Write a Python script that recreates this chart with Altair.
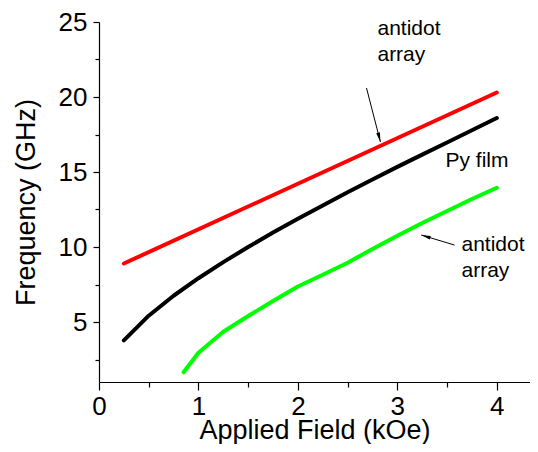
import altair as alt
import pandas as pd

# ---- data ----
field = [0.25, 0.5, 0.75, 1.0, 1.25, 1.5, 1.75, 2.0, 2.25, 2.5, 2.75, 3.0, 3.25, 3.5, 3.75, 4.0]
py_film = [3.77, 5.42, 6.75, 7.92, 8.99, 10.0, 10.96, 11.88, 12.77, 13.65, 14.5, 15.34, 16.16, 16.97, 17.78, 18.6]

red_field = [0.25, 4.0]
red_freq = [8.9, 20.3]

green_field = [0.85, 1.0, 1.25, 1.5, 1.75, 2.0, 2.25, 2.5, 2.75, 3.0, 3.25, 3.5, 3.75, 4.0]
green_freq = [1.65, 2.95, 4.35, 5.4, 6.4, 7.37, 8.15, 8.95, 9.87, 10.75, 11.6, 12.4, 13.2, 13.95]

x_major = [0, 1, 2, 3, 4]
x_minor = [0.5, 1.5, 2.5, 3.5]
y_major = [5, 10, 15, 20, 25]
y_minor = [2.5, 7.5, 12.5, 17.5, 22.5]

labels = ["antidot\narray", "Py film", "antidot\narray"]
label_x = [2.80, 3.484, 3.645]
label_y = [24.13, 15.33, 9.73]

arrow_x1 = [2.69, 3.575]
arrow_y1 = [20.6, 10.13]
arrow_x2 = [2.83, 3.24]
arrow_y2 = [17.0, 10.8]
arrow_angle = [165.5, 286.9]

FONT = "Liberation Sans"

rows = []
for h, f in zip(red_field, red_freq):
    rows.append({"H": h, "f": f, "s": "antidot (upper)", "o": 0})
for h, f in zip(field, py_film):
    rows.append({"H": h, "f": f, "s": "Py film", "o": 1})
for h, f in zip(green_field, green_freq):
    rows.append({"H": h, "f": f, "s": "antidot (lower)", "o": 2})
df = pd.DataFrame(rows)

xscale = alt.Scale(domain=[0, 4.334], nice=False, zero=False)
yscale = alt.Scale(domain=[1, 25], nice=False, zero=False)

axis_common = dict(
    domainColor="black", tickColor="black", labelColor="black", titleColor="black",
    labelFont=FONT, titleFont=FONT, labelFontSize=26, titleFontSize=27,
    titleFontWeight="normal", grid=False, domainWidth=1.2, tickWidth=1.2,
    labelFlush=False,
)

lines = alt.Chart(df).mark_line(strokeWidth=4, strokeCap="round", strokeJoin="round").encode(
    x=alt.X("H:Q", scale=xscale,
            axis=alt.Axis(values=x_major, title="Applied Field (kOe)", orient="bottom",
                          tickSize=8, labelPadding=3, titleY=56, titleBaseline="alphabetic",
                          format="d", **axis_common)),
    y=alt.Y("f:Q", scale=yscale,
            axis=alt.Axis(values=y_major, title="Frequency (GHz)", orient="left",
                          tickSize=6, labelPadding=6, titlePadding=18, format="d", **axis_common)),
    color=alt.Color("s:N", scale=alt.Scale(
        domain=["antidot (upper)", "Py film", "antidot (lower)"],
        range=["#ff0000", "#000000", "#00ff00"]), legend=None),
    order="o:Q",
    detail="s:N",
)

minor = alt.Chart(df).mark_point(opacity=0).encode(
    x=alt.X("H:Q", scale=xscale,
            axis=alt.Axis(values=x_minor, labels=False, title=None, orient="bottom",
                          tickSize=5, domain=False, tickColor="black", tickWidth=1.2, grid=False)),
    y=alt.Y("f:Q", scale=yscale,
            axis=alt.Axis(values=y_minor, labels=False, title=None, orient="left",
                          tickSize=4, domain=False, tickColor="black", tickWidth=1.2, grid=False)),
)

ann_df = pd.DataFrame({"t": labels, "H": label_x, "f": label_y})
texts = alt.Chart(ann_df).mark_text(
    align="left", baseline="alphabetic", lineBreak="\n", lineHeight=26,
    fontSize=21, font=FONT, color="black",
).encode(
    x=alt.X("H:Q", scale=xscale, axis=None),
    y=alt.Y("f:Q", scale=yscale, axis=None),
    text="t:N",
)

arr_df = pd.DataFrame({"x1": arrow_x1, "y1": arrow_y1, "x2": arrow_x2, "y2": arrow_y2, "a": arrow_angle})
shafts = alt.Chart(arr_df).mark_rule(color="black", strokeWidth=1).encode(
    x=alt.X("x1:Q", scale=xscale, axis=None),
    y=alt.Y("y1:Q", scale=yscale, axis=None),
    x2="x2:Q",
    y2="y2:Q",
)
heads = alt.Chart(arr_df).mark_point(
    shape="M0,0L0.4,2L-0.4,2Z", filled=True, color="black", opacity=1, size=90, strokeWidth=0,
).encode(
    x=alt.X("x2:Q", scale=xscale, axis=None),
    y=alt.Y("y2:Q", scale=yscale, axis=None),
    angle=alt.Angle("a:Q", scale=None),
)

chart = alt.layer(lines, minor, texts, shafts, heads).resolve_axis(
    x="independent", y="independent"
).properties(
    width=431, height=360,
    autosize=alt.AutoSizeParams(type="none"),
    padding={"left": 91, "top": 14, "right": 0, "bottom": 62},
).configure_view(stroke=None)

chart.save("out.html", embed_options={"renderer": "svg", "actions": False})
